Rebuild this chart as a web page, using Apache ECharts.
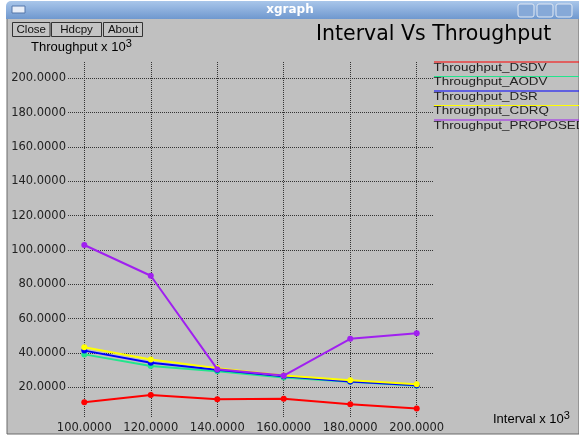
<!DOCTYPE html>
<html>
<head>
<meta charset="utf-8">
<title>Interval Vs Throughput</title>
<script src="https://cdn.jsdelivr.net/npm/echarts@6/dist/echarts.min.js"></script>
<style>
  html, body { margin: 0; padding: 0; background: #fff; }
  #chart { width: 579px; height: 436px; }
</style>
</head>
<body>
<div id="chart"></div>
<script>
// interval (x 10^3) on x, throughput (x 10^3) on y
var intervals = [100, 120, 140, 160, 180, 200];
var xTicks = [100, 120, 140, 160, 180, 200];
var yTicks = [20, 40, 60, 80, 100, 120, 140, 160, 180, 200];

var seriesNames = ['Throughput_DSDV', 'Throughput_AODV', 'Throughput_DSR', 'Throughput_CDRQ', 'Throughput_PROPOSED'];
var seriesColors = ['#ff0000', '#22e58c', '#0000ff', '#ffff00', '#a020f0'];

var dsdv = [11.3, 15.5, 13.0, 13.4, 10.1, 7.7];
var aodv = [39.2, 32.5, 29.4, 25.8, 23.2, 21.0];
var dsr = [41.4, 34.3, 30.2, 26.4, 23.4, 21.2];
var cdrq = [43.4, 36.2, 31.2, 26.9, 24.1, 21.8];
var proposed = [102.9, 85.0, 30.6, 26.9, 48.3, 51.5];

var allData = [dsdv, aodv, dsr, cdrq, proposed];

var myChart = echarts.init(document.getElementById('chart'));

var font = 'DejaVu Sans';

// window frame + buttons + legend (xgraph look)
var graphics = [
  { type: 'rect', z: -100, shape: { x: 7, y: 18, width: 572, height: 416 },
    style: { fill: '#c0c0c0', stroke: '#6a6a6a', lineWidth: 1 } },
  { type: 'rect', z: -90, shape: { x: 6, y: 1, width: 573, height: 18, r: [5, 0, 0, 0] },
    style: { fill: new echarts.graphic.LinearGradient(0, 0, 0, 1, [
      { offset: 0, color: '#a9c6ea' }, { offset: 1, color: '#6f98cf' }]) } },
  { type: 'rect', z: -80, shape: { x: 12, y: 6, width: 13, height: 7 },
    style: { fill: '#e8eef8', stroke: '#5577aa', lineWidth: 1 } },
  { type: 'text', z: -80, style: { x: 290, y: 10, text: 'xgraph', fill: '#ffffff',
    font: 'bold 12px "DejaVu Sans"', align: 'center', verticalAlign: 'middle' } }
];
[518, 537, 556].forEach(function (bx) {
  graphics.push({ type: 'rect', z: -80, shape: { x: bx, y: 4, width: 16, height: 13, r: 2 },
    style: { fill: '#86a9d8', stroke: '#e0e8f4', lineWidth: 1 } });
});

var buttons = [['Close', 12.5, 37.5], ['Hdcpy', 51.5, 50], ['About', 103.5, 39]];
buttons.forEach(function (b) {
  graphics.push({ type: 'rect', z: -80, shape: { x: b[1], y: 22.5, width: b[2], height: 14 },
    style: { fill: '#c4c4c4', stroke: '#333', lineWidth: 1 } });
  graphics.push({ type: 'text', z: -80, x: b[1] + b[2] / 2, y: 29.5, scaleX: 1.05,
    style: { x: 0, y: 0, text: b[0], fill: '#111',
      font: '11px "Liberation Sans"', align: 'center', verticalAlign: 'middle' } });
});

graphics.push({ type: 'text', style: { x: 316, y: 35, text: 'Interval Vs Throughput', fill: '#000',
  font: '20.5px "DejaVu Sans"', align: 'left', verticalAlign: 'middle' } });
graphics.push({ type: 'text', style: { x: 31, y: 47, text: '{a|Throughput x 10}{s|3}',
  align: 'left', verticalAlign: 'middle',
  rich: { a: { fontFamily: 'Liberation Sans', fontSize: 13, color: '#111' },
          s: { fontFamily: 'Liberation Sans', fontSize: 11, color: '#111', padding: [0, 0, 7, 0] } } } });
graphics.push({ type: 'text', style: { x: 493, y: 419, text: '{a|Interval x 10}{s|3}',
  align: 'left', verticalAlign: 'middle',
  rich: { a: { fontFamily: 'Liberation Sans', fontSize: 13, color: '#111' },
          s: { fontFamily: 'Liberation Sans', fontSize: 11, color: '#111', padding: [0, 0, 7, 0] } } } });

seriesNames.forEach(function (name, i) {
  var ly = 62 + i * 14.5;
  graphics.push({ type: 'line', shape: { x1: 434, y1: ly, x2: 579, y2: ly },
    style: { stroke: seriesColors[i], lineWidth: 1 } });
  graphics.push({ type: 'text', x: 433.5, y: ly + 6, scaleX: 1.34,
    style: { x: 0, y: 0, text: name, fill: '#222',
      font: '10px "Liberation Sans"', align: 'left', verticalAlign: 'middle' } });
});

var series = [];
for (var i = 0; i < seriesNames.length; i++) {
  series.push({
    name: seriesNames[i],
    type: 'line',
    data: intervals.map(function (x, k) { return [x, allData[i][k]]; }),
    symbol: 'circle',
    symbolSize: 6,
    itemStyle: { color: seriesColors[i] },
    lineStyle: { color: seriesColors[i], width: 2 },
    z: 2 + i
  });
}

var option = {
  backgroundColor: '#ffffff',
  animation: false,
  grid: { left: 68, right: 146, top: 62, bottom: 18 },
  xAxis: {
    type: 'value',
    min: 95.1,
    max: 204.9,
    axisLine: { show: false },
    axisTick: { show: false, customValues: xTicks },
    axisLabel: {
      customValues: xTicks,
      margin: 4,
      color: '#222',
      fontFamily: font,
      fontSize: 11.5,
      formatter: function (v) { return v.toFixed(4); }
    },
    splitLine: { show: true, lineStyle: { color: '#333', width: 1, type: [1, 1] } }
  },
  yAxis: {
    type: 'value',
    min: 2.15,
    max: 209.5,
    axisLine: { show: false },
    axisTick: { show: false, customValues: yTicks },
    axisLabel: {
      customValues: yTicks,
      margin: 2,
      color: '#222',
      fontFamily: font,
      fontSize: 11.5,
      formatter: function (v) { return v.toFixed(4); }
    },
    splitLine: { show: true, lineStyle: { color: '#333', width: 1, type: [1, 1] } }
  },
  graphic: graphics,
  series: series
};

myChart.setOption(option);
window.addEventListener('resize', function () { myChart.resize(); });
</script>
</body>
</html>
